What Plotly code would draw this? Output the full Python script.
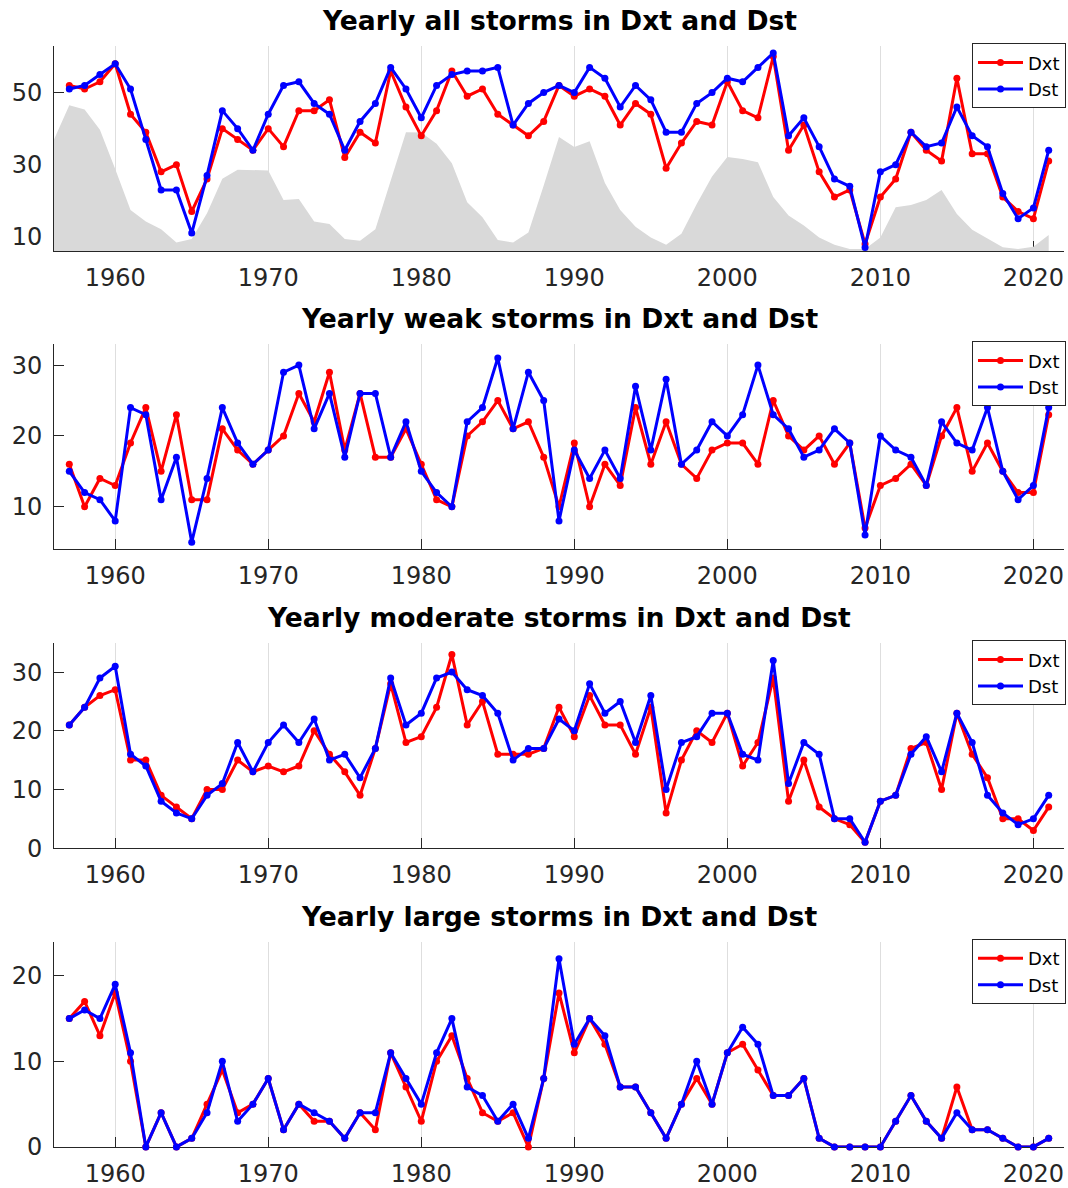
import plotly.graph_objects as go

years = list(range(1957, 2022))

# yearly storm counts (Dxt = red, Dst = blue)
dxt_all = [52, 51, 53, 58, 44, 39, 28, 30, 17, 26, 40, 37, 34, 40, 35, 45, 45, 48, 32, 39,
           36, 56, 46, 38, 45, 56, 49, 51, 44, 41, 38, 42, 52, 49, 51, 49, 41, 47, 44, 29,
           36, 42, 41, 53, 45, 43, 60, 34, 41, 28, 21, 23, 8, 21, 26, 39, 34, 31, 54, 33,
           33, 21, 17, 15, 31]
dst_all = [51, 52, 55, 58, 51, 37, 23, 23, 11, 27, 45, 40, 34, 44, 52, 53, 47, 44, 34, 42,
           47, 57, 51, 43, 52, 55, 56, 56, 57, 41, 47, 50, 52, 50, 57, 54, 46, 52, 48, 39,
           39, 47, 50, 54, 53, 57, 61, 38, 43, 35, 26, 24, 7, 28, 30, 39, 35, 36, 46, 38,
           35, 22, 15, 18, 34]

dxt_weak = [16, 10, 14, 13, 19, 24, 15, 23, 11, 11, 21, 18, 16, 18, 20, 26, 22, 29, 18, 26,
            17, 17, 21, 16, 11, 10, 20, 22, 25, 21, 22, 17, 10, 19, 10, 16, 13, 24, 16, 22,
            16, 14, 18, 19, 19, 16, 25, 20, 18, 20, 16, 19, 7, 13, 14, 16, 13, 20, 24, 15,
            19, 15, 12, 12, 23]
dst_weak = [15, 12, 11, 8, 24, 23, 11, 17, 5, 14, 24, 19, 16, 18, 29, 30, 21, 26, 17, 26,
            26, 17, 22, 15, 12, 10, 22, 24, 31, 21, 29, 25, 8, 18, 14, 18, 14, 27, 18, 28,
            16, 18, 22, 20, 23, 30, 23, 21, 17, 18, 21, 19, 6, 20, 18, 17, 13, 22, 19, 18,
            24, 15, 11, 13, 24]

dxt_moderate = [21, 24, 26, 27, 15, 15, 9, 7, 5, 10, 10, 15, 13, 14, 13, 14, 20, 16, 13, 9,
                17, 28, 18, 19, 24, 33, 21, 25, 16, 16, 16, 17, 24, 19, 26, 21, 21, 16, 24, 6,
                15, 20, 18, 23, 14, 18, 29, 8, 15, 7, 5, 4, 1, 8, 9, 17, 18, 10, 23, 16,
                12, 5, 5, 3, 7]
dst_moderate = [21, 24, 29, 31, 16, 14, 8, 6, 5, 9, 11, 18, 13, 18, 21, 18, 22, 15, 16, 12,
                17, 29, 21, 23, 29, 30, 27, 26, 23, 15, 17, 17, 22, 20, 28, 23, 25, 18, 26, 10,
                18, 19, 23, 23, 16, 15, 32, 11, 18, 16, 5, 5, 1, 8, 9, 16, 19, 13, 23, 18,
                9, 6, 4, 5, 9]

dxt_large = [15, 17, 13, 18, 10, 0, 4, 0, 1, 5, 9, 4, 5, 8, 2, 5, 3, 3, 1, 4,
             2, 11, 7, 3, 10, 13, 8, 4, 3, 4, 0, 8, 18, 11, 15, 12, 7, 7, 4, 1,
             5, 8, 5, 11, 12, 9, 6, 6, 8, 1, 0, 0, 0, 0, 3, 6, 3, 1, 7, 2,
             2, 1, 0, 0, 1]
dst_large = [15, 16, 15, 19, 11, 0, 4, 0, 1, 4, 10, 3, 5, 8, 2, 5, 4, 3, 1, 4,
             4, 11, 8, 5, 11, 15, 7, 6, 3, 5, 1, 8, 22, 12, 15, 13, 7, 7, 4, 1,
             5, 10, 5, 11, 14, 12, 6, 6, 8, 1, 0, 0, 0, 0, 3, 6, 3, 1, 4, 2,
             2, 1, 0, 0, 1]

# grey background curve in the top panel (scaled solar activity)
bg_years = list(range(1956, 2022))
bg_values = [37.0, 46.5, 45.3, 39.7, 28.8, 17.4, 14.2, 12.1, 8.4, 9.4, 16.5, 26.1, 28.6, 28.6,
             28.4, 20.2, 20.5, 14.2, 13.5, 9.4, 8.9, 12.1, 25.6, 39.0, 38.9, 35.8, 30.4, 19.6,
             15.4, 9.1, 8.4, 11.2, 24.2, 37.7, 34.9, 36.5, 24.9, 17.4, 12.8, 9.8, 7.8, 10.8,
             19.1, 26.7, 32.1, 31.6, 30.7, 21.0, 15.9, 13.1, 9.8, 7.8, 6.6, 6.6, 9.8, 18.2,
             18.8, 20.2, 23.0, 16.3, 11.9, 9.4, 7.1, 6.6, 7.2, 10.5]

titles = ["Yearly all storms in Dxt and Dst",
          "Yearly weak storms in Dxt and Dst",
          "Yearly moderate storms in Dxt and Dst",
          "Yearly large storms in Dxt and Dst"]
panels = [(dxt_all, dst_all), (dxt_weak, dst_weak),
          (dxt_moderate, dst_moderate), (dxt_large, dst_large)]
y_ranges = [[6, 63], [4, 33], [0, 35], [0, 24]]
y_ticks = [[10, 30, 50], [10, 20, 30], [0, 10, 20, 30], [0, 10, 20]]

W, H = 1068, 1204
K = 1188 / H  # the snapshot squeezes the page height by this much
FONT = "DejaVu Sans"
AX = "#262626"
tops = [t / K for t in (45.7, 343.3, 641.7, 940.0)]
panel_h = 205.0 / K
x0, x1 = 54 / W, 1064 / W

fig = go.Figure()

fig.add_trace(go.Scatter(
    x=bg_years, y=bg_values, mode="lines", fill="tozeroy",
    line=dict(width=0, color="#d9d9d9"), fillcolor="#d9d9d9",
    showlegend=False, hoverinfo="skip", xaxis="x", yaxis="y",
))

layout = dict(
    width=W, height=H,
    margin=dict(l=0, r=0, t=0, b=0),
    paper_bgcolor="white", plot_bgcolor="white",
    font=dict(family=FONT, color=AX),
    annotations=[],
)

for i, ((red, blue), title) in enumerate(zip(panels, titles)):
    n = "" if i == 0 else str(i + 1)
    lg = "legend" + n
    for name, vals, col in (("Dxt", red, "#ff0000"), ("Dst", blue, "#0000ff")):
        fig.add_trace(go.Scatter(
            x=years, y=vals, name=name, mode="lines+markers",
            line=dict(color=col, width=3),
            marker=dict(color=col, size=7),
            cliponaxis=False,
            xaxis="x" + n, yaxis="y" + n, legend=lg,
        ))

    top = tops[i]
    y_dom = [1 - (top + panel_h) / H, 1 - top / H]
    layout["xaxis" + n] = dict(
        domain=[x0, x1], anchor="y" + n, range=[1956, 2022],
        tickvals=[1960, 1970, 1980, 1990, 2000, 2010, 2020],
        showgrid=True, gridcolor="#dedede", gridwidth=1,
        showline=True, linecolor=AX, linewidth=1,
        ticks="inside", ticklen=10, tickcolor=AX, ticklabelstandoff=5,
        tickfont=dict(family=FONT, size=24, color=AX),
        zeroline=False, layer="below traces",
    )
    layout["yaxis" + n] = dict(
        domain=y_dom, anchor="x" + n, range=y_ranges[i],
        tickvals=y_ticks[i], showgrid=False,
        showline=True, linecolor=AX, linewidth=1,
        ticks="inside", ticklen=10, tickcolor=AX, ticklabelstandoff=6,
        tickfont=dict(family=FONT, size=24, color=AX),
        zeroline=False, layer="below traces",
    )
    layout[lg] = dict(
        x=1066 / W, xanchor="right", y=1 - (top - 2.5) / H, yanchor="top",
        bgcolor="white", bordercolor=AX, borderwidth=1,
        font=dict(family=FONT, size=18, color="black"),
        tracegroupgap=0, itemwidth=45,
    )
    layout["annotations"].append(dict(
        text="<b>%s</b>" % title, xref="paper", yref="paper",
        x=(x0 + x1) / 2, y=1 - (top - 25.8) / H, xanchor="center", yanchor="middle",
        showarrow=False, font=dict(family=FONT, size=26.6, color="black"),
    ))

fig.update_layout(**layout)
fig.write_html(
    "out.html",
    config={"displayModeBar": False},
    post_script="document.body.style.margin='0';document.body.style.overflow='hidden';",
)
